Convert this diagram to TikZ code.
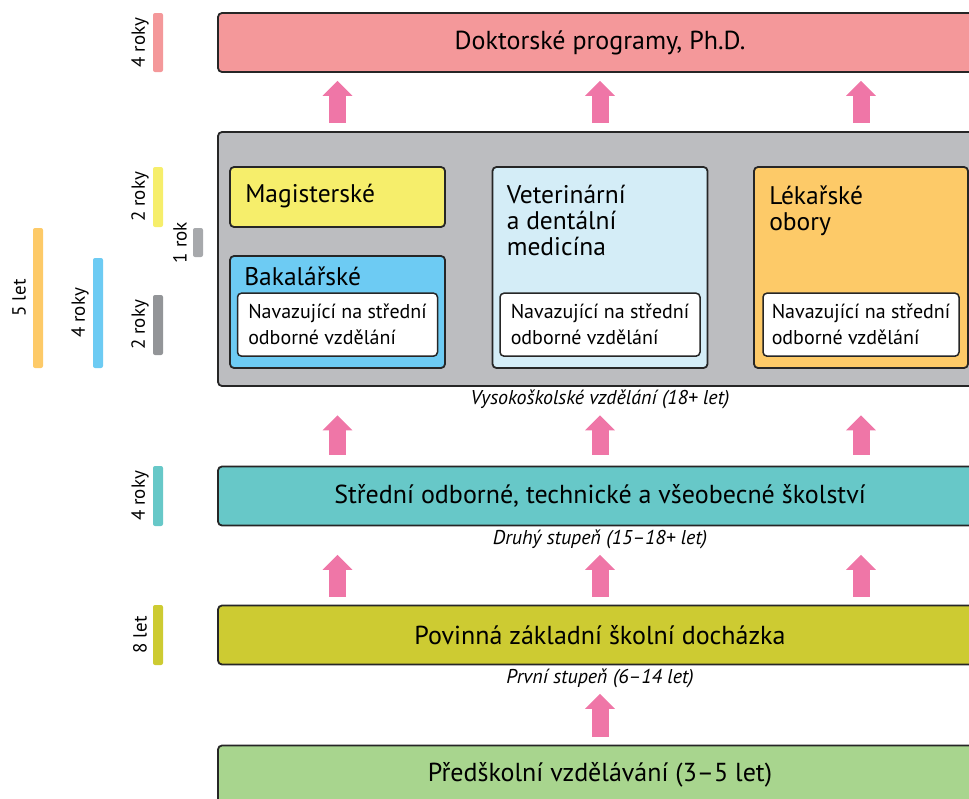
\documentclass[tikz,border=0pt]{standalone}
\usepackage{fontspec}
\setmainfont{PT Sans}
\usetikzlibrary{positioning,arrows.meta}
\definecolor{cdok}{HTML}{F4989A}
\definecolor{cvs}{HTML}{BCBDC0}
\definecolor{cmag}{HTML}{F6EE6B}
\definecolor{cbak}{HTML}{6DCBF3}
\definecolor{cvet}{HTML}{D4EDF7}
\definecolor{clek}{HTML}{FDCA68}
\definecolor{cstr}{HTML}{67C8C8}
\definecolor{cpov}{HTML}{CDCB32}
\definecolor{cpre}{HTML}{A8D58E}
\definecolor{cpink}{HTML}{EF76A7}
\definecolor{cgrey}{HTML}{A7A9AC}
\definecolor{cdgrey}{HTML}{939598}

\begin{document}
\begin{tikzpicture}[x=1pt, y=-1pt,
  box/.style={draw=black!85, rounded corners=4pt, line width=1.8pt, inner sep=0pt},
  wide/.style={box, minimum width=764pt, minimum height=59pt, font=\fontsize{26}{30}\selectfont},
  col/.style={box, minimum width=215pt},
  inbox/.style={box, fill=white, line width=1.5pt, minimum width=200pt, minimum height=63pt, align=left, font=\fontsize{20}{26}\selectfont},
  coltitle/.style={anchor=base west, inner sep=0pt, align=left, font=\fontsize{25.5}{26}\selectfont},
  stage/.style={inner sep=1pt, font=\fontsize{20}{22}\selectfont\itshape},
  bar/.style={rounded corners=2pt, minimum width=10pt, inner sep=0pt},
  barlab/.style={rotate=90, inner sep=0pt, font=\fontsize{19}{21}\selectfont},
  uparr/.style={-{Triangle[width=29pt, length=15pt]}, line width=17pt, color=cpink, shorten <=8pt, shorten >=8pt}]
\useasboundingbox (0,0) rectangle (969,798);
\clip (0,0) rectangle (969,798);
\node[wide, fill=cdok] (doktor) at (600,42.5) {Doktorské programy, Ph.D.};
\node[box, fill=cvs, minimum width=764pt, minimum height=254pt] (vs) at (600,259) {};
\node[col, fill=cmag, minimum height=60pt] (mag) at (337.5,197) {};
\node[col, fill=cbak, minimum height=112pt] (bak) at (337.5,312) {};
\node[col, fill=cvet, minimum height=201pt] (vet) at (600,267.5) {};
\node[col, fill=clek, minimum width=214pt, minimum height=201pt] (lek) at (861,267.5) {};
\node[coltitle] (magt) at ([xshift=16pt, yshift=-36pt]mag.north west) {Magisterské};
\node[coltitle] (bakt) at ([xshift=15pt, yshift=-30pt]bak.north west) {Bakalářské};
\node[coltitle] (vett) at ([xshift=15pt, yshift=-89pt]vet.north west) {Veterinární\\a dentální\\medicína};
\node[coltitle] (lekt) at ([xshift=16pt, yshift=-64pt]lek.north west) {Lékařské\\obory};
\node[inbox, anchor=south] (bakin) at ([yshift=12pt]bak.south) {Navazující na střední\\odborné vzdělání};
\node[inbox, anchor=south] (vetin) at ([yshift=12pt]vet.south) {Navazující na střední\\odborné vzdělání};
\node[inbox, anchor=south, minimum width=196pt] (lekin) at ([yshift=12pt]lek.south) {Navazující na střední\\odborné vzdělání};
\node[stage, below=2pt of vs] (vscap) {Vysokoškolské vzdělání (18+ let)};
\node[wide, fill=cstr] (stredni) at (600,496) {Střední odborné, technické a všeobecné školství};
\node[stage, below=2pt of stredni] (strcap) {Druhý stupeň (15–18+ let)};
\node[wide, fill=cpov] (povinna) at (600,635) {Povinná základní školní docházka};
\node[stage, below=2pt of povinna] (povcap) {První stupeň (6–14 let)};
\node[wide, fill=cpre] (pred) at (600,775) {Předškolní vzdělávání (3–5 let)};
\foreach \c in {mag,vet,lek} \draw[uparr] (\c.north |- vs.north) -- (\c.north |- doktor.south);
\foreach \c in {mag,vet,lek} \draw[uparr, shorten <=11pt, shorten >=5pt] (\c.north |- stredni.north) -- (\c.north |- vscap.south);
\foreach \c in {mag,vet,lek} \draw[uparr, shorten >=5pt] (\c.north |- povinna.north) -- (\c.north |- strcap.south);
\draw[uparr, shorten >=5pt] (pred.north) -- (povcap.south);
\node[bar, fill=cdok, minimum height=59pt] (bdok) at (158,42.5) {};
\node[barlab] (ldok) at ([xshift=-18pt]bdok.center) {4 roky};
\node[bar, fill=cmag, minimum height=60pt] (bmag) at (158,197) {};
\node[barlab] (lmag) at ([xshift=-18pt]bmag.center) {2 roky};
\node[bar, fill=cgrey, minimum height=29pt] (brok) at (198,242.5) {};
\node[barlab] (lrok) at ([xshift=-18pt]brok.center) {1 rok};
\node[bar, fill=cdgrey, minimum height=60pt] (bnav) at (158,325) {};
\node[barlab] (lnav) at ([xshift=-18pt]bnav.center) {2 roky};
\node[bar, fill=cbak, minimum height=110pt] (bbak) at (98,313) {};
\node[barlab] (lbak) at ([xshift=-18pt]bbak.center) {4 roky};
\node[bar, fill=clek, minimum height=140pt] (blek) at (38,298) {};
\node[barlab] (llek) at ([xshift=-19pt]blek.center) {5 let};
\node[bar, fill=cstr, minimum height=60pt] (bstr) at (158,496) {};
\node[barlab] (lstr) at ([xshift=-18pt]bstr.center) {4 roky};
\node[bar, fill=cpov, minimum height=60pt] (bpov) at (158,635) {};
\node[barlab] (lpov) at ([xshift=-18pt]bpov.center) {8 let};
\end{tikzpicture}
\end{document}
